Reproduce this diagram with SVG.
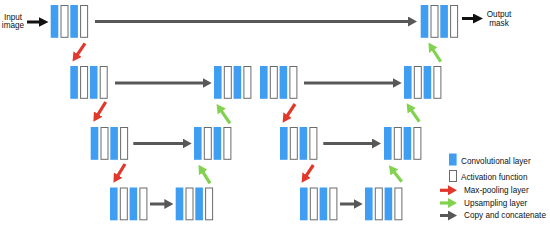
<svg xmlns="http://www.w3.org/2000/svg" xmlns:xlink="http://www.w3.org/1999/xlink" width="550" height="225" viewBox="0 0 550 225">
<style>
.conv{fill:#3f9df2}
.act{fill:#fff;stroke:#6b6b6b;stroke-width:1}
.txt{font-family:"Liberation Sans",Arial,sans-serif;font-size:8.2px;fill:#111}
.gray{stroke:#585858;stroke-width:3;fill:none}
.blk{stroke:#111;stroke-width:3;fill:none}
.red{stroke:#e2382c;stroke-width:3.2;fill:none}
.grn{stroke:#80d24f;stroke-width:3.2;fill:none}
</style>
<defs>
<g id="block">
<rect class="conv" x="0" y="0" width="7.6" height="32.8"/>
<rect class="act" x="10.3" y="0.5" width="7" height="31.8"/>
<rect class="conv" x="19.6" y="0" width="7.6" height="32.8"/>
<rect class="act" x="29.9" y="0.5" width="7" height="31.8"/>
</g>
<marker id="mg" markerUnits="userSpaceOnUse" markerWidth="9" markerHeight="10" refX="2" refY="5" orient="auto"><path d="M0,0 L9,5 L0,10 z" fill="#585858"/></marker>
<marker id="mk" markerUnits="userSpaceOnUse" markerWidth="10" markerHeight="10" refX="2" refY="5" orient="auto"><path d="M0,0 L10,5 L0,10 z" fill="#111"/></marker>
<marker id="mr" markerUnits="userSpaceOnUse" markerWidth="9" markerHeight="10" refX="2" refY="5" orient="auto"><path d="M0,0 L9,5 L0,10 z" fill="#e2382c"/></marker>
<marker id="mgr" markerUnits="userSpaceOnUse" markerWidth="9" markerHeight="10" refX="2" refY="5" orient="auto"><path d="M0,0 L9,5 L0,10 z" fill="#80d24f"/></marker>
</defs>

<g id="input-label"><text class="txt" x="13" y="19.5" text-anchor="middle">Input</text><text class="txt" x="13" y="27.8" text-anchor="middle">image</text></g>
<g id="output-label"><text class="txt" x="499" y="17" text-anchor="middle">Output</text><text class="txt" x="499" y="26" text-anchor="middle">mask</text></g>

<g id="A"><use xlink:href="#block" x="50.7" y="5"/></g>
<g id="B"><use xlink:href="#block" x="70.3" y="66"/></g>
<g id="F"><use xlink:href="#block" x="90.7" y="127"/></g>
<g id="J"><use xlink:href="#block" x="110" y="187.5"/></g>
<g id="K"><use xlink:href="#block" x="175.7" y="187.5"/></g>
<g id="G"><use xlink:href="#block" x="194" y="127"/></g>
<g id="C"><use xlink:href="#block" x="214" y="66"/></g>
<g id="D"><use xlink:href="#block" x="260" y="66"/></g>
<g id="H"><use xlink:href="#block" x="280" y="127"/></g>
<g id="L"><use xlink:href="#block" x="300" y="187.5"/></g>
<g id="M"><use xlink:href="#block" x="365" y="187.5"/></g>
<g id="I"><use xlink:href="#block" x="384" y="127"/></g>
<g id="E"><use xlink:href="#block" x="404" y="66"/></g>
<g id="Out"><use xlink:href="#block" x="420.7" y="5"/></g>

<g id="connectors">
<line class="blk" x1="27" y1="22" x2="40.5" y2="22" marker-end="url(#mk)"/>
<line class="blk" x1="462" y1="18.5" x2="475" y2="18.5" marker-end="url(#mk)"/>
<line class="gray" x1="95" y1="21.5" x2="410" y2="21.5" marker-end="url(#mg)"/>
<line class="gray" x1="115" y1="83" x2="204.7" y2="83" marker-end="url(#mg)"/>
<line class="gray" x1="304" y1="83" x2="394.7" y2="83" marker-end="url(#mg)"/>
<line class="gray" x1="133.3" y1="143.5" x2="184.7" y2="143.5" marker-end="url(#mg)"/>
<line class="gray" x1="323.3" y1="143.5" x2="374" y2="143.5" marker-end="url(#mg)"/>
<line class="gray" x1="150" y1="204" x2="166.3" y2="204" marker-end="url(#mg)"/>
<line class="gray" x1="340" y1="204" x2="355.7" y2="204" marker-end="url(#mg)"/>
<line class="red" x1="85" y1="43.3" x2="76.5" y2="55.8" marker-end="url(#mr)"/>
<line class="red" x1="105.7" y1="102" x2="97.1" y2="115.8" marker-end="url(#mr)"/>
<line class="red" x1="125" y1="164" x2="117.1" y2="176.8" marker-end="url(#mr)"/>
<line class="red" x1="295" y1="104" x2="286.5" y2="116.8" marker-end="url(#mr)"/>
<line class="red" x1="313.3" y1="165" x2="305.5" y2="176.8" marker-end="url(#mr)"/>
<line class="grn" x1="210" y1="183.3" x2="202.2" y2="170.8" marker-end="url(#mgr)"/>
<line class="grn" x1="230" y1="123.3" x2="220.6" y2="109.8" marker-end="url(#mgr)"/>
<line class="grn" x1="401.7" y1="181.7" x2="393.2" y2="170.8" marker-end="url(#mgr)"/>
<line class="grn" x1="419.3" y1="121.7" x2="410.6" y2="109.1" marker-end="url(#mgr)"/>
<line class="grn" x1="440.7" y1="61.7" x2="432.2" y2="48.5" marker-end="url(#mgr)"/>
</g>

<g id="legend">
<rect class="conv" x="449" y="153.5" width="7.6" height="12"/>
<text class="txt" x="461" y="163.5">Convolutional layer</text>
<rect class="act" x="449.5" y="170.5" width="7" height="11"/>
<text class="txt" x="461" y="180">Activation function</text>
<line class="red" x1="440" y1="190.3" x2="450" y2="190.3" marker-end="url(#mr)"/>
<text class="txt" x="464" y="193">Max-pooling layer</text>
<line class="grn" x1="440" y1="203" x2="450" y2="203" marker-end="url(#mgr)"/>
<text class="txt" x="464" y="205.8">Upsampling layer</text>
<line class="gray" x1="440" y1="215.5" x2="450" y2="215.5" marker-end="url(#mg)"/>
<text class="txt" x="464" y="218.3">Copy and concatenate</text>
</g>
</svg>
